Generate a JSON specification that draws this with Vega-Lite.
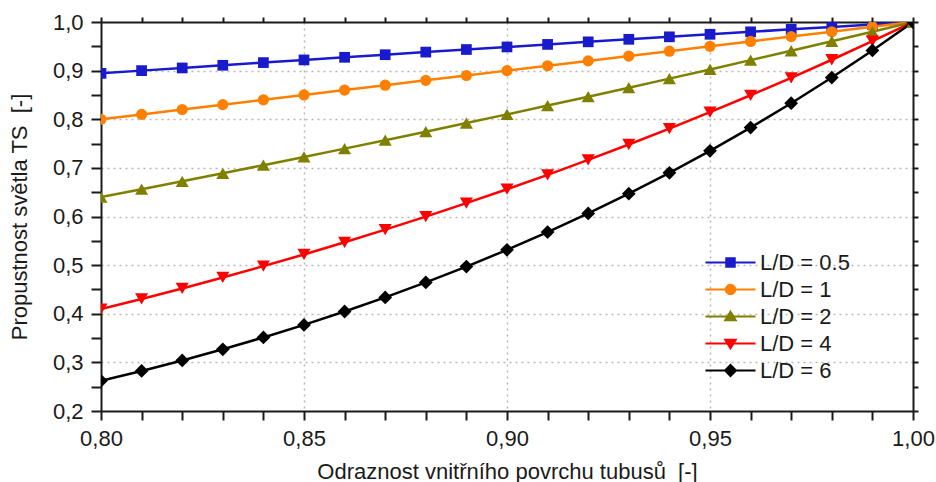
{
  "$schema": "https://vega.github.io/schema/vega-lite/v6.json",
  "width": 812,
  "height": 389,
  "autosize": {"type": "none"},
  "padding": {"left": 101, "top": 22, "right": 23, "bottom": 71},
  "background": "white",
  "config": {
    "view": {"stroke": null},
    "font": "Liberation Sans",
    "axis": {"labelFont": "Liberation Sans", "titleFont": "Liberation Sans", "labelColor": "#1a1a1a", "titleColor": "#1a1a1a", "titleFontWeight": "normal", "domainColor": "#1a1a1a", "domainWidth": 2, "tickColor": "#1a1a1a", "tickWidth": 2, "labelFontSize": 22, "titleFontSize": 22},
    "legend": {"labelFont": "Liberation Sans", "labelFontSize": 22, "labelColor": "#1a1a1a"},
    "point": {"filled": true, "opacity": 1}
  },
  "data": {"values": [
    {"x": 0.80, "s": "L/D = 0.5", "ts": 0.8944}, {"x": 0.81, "s": "L/D = 0.5", "ts": 0.9000}, {"x": 0.82, "s": "L/D = 0.5", "ts": 0.9055}, {"x": 0.83, "s": "L/D = 0.5", "ts": 0.9110}, {"x": 0.84, "s": "L/D = 0.5", "ts": 0.9165}, {"x": 0.85, "s": "L/D = 0.5", "ts": 0.9220}, {"x": 0.86, "s": "L/D = 0.5", "ts": 0.9274}, {"x": 0.87, "s": "L/D = 0.5", "ts": 0.9327}, {"x": 0.88, "s": "L/D = 0.5", "ts": 0.9381}, {"x": 0.89, "s": "L/D = 0.5", "ts": 0.9434}, {"x": 0.90, "s": "L/D = 0.5", "ts": 0.9487}, {"x": 0.91, "s": "L/D = 0.5", "ts": 0.9539}, {"x": 0.92, "s": "L/D = 0.5", "ts": 0.9592}, {"x": 0.93, "s": "L/D = 0.5", "ts": 0.9644}, {"x": 0.94, "s": "L/D = 0.5", "ts": 0.9695}, {"x": 0.95, "s": "L/D = 0.5", "ts": 0.9747}, {"x": 0.96, "s": "L/D = 0.5", "ts": 0.9798}, {"x": 0.97, "s": "L/D = 0.5", "ts": 0.9849}, {"x": 0.98, "s": "L/D = 0.5", "ts": 0.9899}, {"x": 0.99, "s": "L/D = 0.5", "ts": 0.9950}, {"x": 1.00, "s": "L/D = 0.5", "ts": 1.0},
    {"x": 0.80, "s": "L/D = 1", "ts": 0.80}, {"x": 0.81, "s": "L/D = 1", "ts": 0.81}, {"x": 0.82, "s": "L/D = 1", "ts": 0.82}, {"x": 0.83, "s": "L/D = 1", "ts": 0.83}, {"x": 0.84, "s": "L/D = 1", "ts": 0.84}, {"x": 0.85, "s": "L/D = 1", "ts": 0.85}, {"x": 0.86, "s": "L/D = 1", "ts": 0.86}, {"x": 0.87, "s": "L/D = 1", "ts": 0.87}, {"x": 0.88, "s": "L/D = 1", "ts": 0.88}, {"x": 0.89, "s": "L/D = 1", "ts": 0.89}, {"x": 0.90, "s": "L/D = 1", "ts": 0.90}, {"x": 0.91, "s": "L/D = 1", "ts": 0.91}, {"x": 0.92, "s": "L/D = 1", "ts": 0.92}, {"x": 0.93, "s": "L/D = 1", "ts": 0.93}, {"x": 0.94, "s": "L/D = 1", "ts": 0.94}, {"x": 0.95, "s": "L/D = 1", "ts": 0.95}, {"x": 0.96, "s": "L/D = 1", "ts": 0.96}, {"x": 0.97, "s": "L/D = 1", "ts": 0.97}, {"x": 0.98, "s": "L/D = 1", "ts": 0.98}, {"x": 0.99, "s": "L/D = 1", "ts": 0.99}, {"x": 1.00, "s": "L/D = 1", "ts": 1.0},
    {"x": 0.80, "s": "L/D = 2", "ts": 0.6400}, {"x": 0.81, "s": "L/D = 2", "ts": 0.6561}, {"x": 0.82, "s": "L/D = 2", "ts": 0.6724}, {"x": 0.83, "s": "L/D = 2", "ts": 0.6889}, {"x": 0.84, "s": "L/D = 2", "ts": 0.7056}, {"x": 0.85, "s": "L/D = 2", "ts": 0.7225}, {"x": 0.86, "s": "L/D = 2", "ts": 0.7396}, {"x": 0.87, "s": "L/D = 2", "ts": 0.7569}, {"x": 0.88, "s": "L/D = 2", "ts": 0.7744}, {"x": 0.89, "s": "L/D = 2", "ts": 0.7921}, {"x": 0.90, "s": "L/D = 2", "ts": 0.8100}, {"x": 0.91, "s": "L/D = 2", "ts": 0.8281}, {"x": 0.92, "s": "L/D = 2", "ts": 0.8464}, {"x": 0.93, "s": "L/D = 2", "ts": 0.8649}, {"x": 0.94, "s": "L/D = 2", "ts": 0.8836}, {"x": 0.95, "s": "L/D = 2", "ts": 0.9025}, {"x": 0.96, "s": "L/D = 2", "ts": 0.9216}, {"x": 0.97, "s": "L/D = 2", "ts": 0.9409}, {"x": 0.98, "s": "L/D = 2", "ts": 0.9604}, {"x": 0.99, "s": "L/D = 2", "ts": 0.9801}, {"x": 1.00, "s": "L/D = 2", "ts": 1.0},
    {"x": 0.80, "s": "L/D = 4", "ts": 0.4096}, {"x": 0.81, "s": "L/D = 4", "ts": 0.4305}, {"x": 0.82, "s": "L/D = 4", "ts": 0.4521}, {"x": 0.83, "s": "L/D = 4", "ts": 0.4746}, {"x": 0.84, "s": "L/D = 4", "ts": 0.4979}, {"x": 0.85, "s": "L/D = 4", "ts": 0.5220}, {"x": 0.86, "s": "L/D = 4", "ts": 0.5470}, {"x": 0.87, "s": "L/D = 4", "ts": 0.5729}, {"x": 0.88, "s": "L/D = 4", "ts": 0.5997}, {"x": 0.89, "s": "L/D = 4", "ts": 0.6274}, {"x": 0.90, "s": "L/D = 4", "ts": 0.6561}, {"x": 0.91, "s": "L/D = 4", "ts": 0.6857}, {"x": 0.92, "s": "L/D = 4", "ts": 0.7164}, {"x": 0.93, "s": "L/D = 4", "ts": 0.7481}, {"x": 0.94, "s": "L/D = 4", "ts": 0.7807}, {"x": 0.95, "s": "L/D = 4", "ts": 0.8145}, {"x": 0.96, "s": "L/D = 4", "ts": 0.8493}, {"x": 0.97, "s": "L/D = 4", "ts": 0.8853}, {"x": 0.98, "s": "L/D = 4", "ts": 0.9224}, {"x": 0.99, "s": "L/D = 4", "ts": 0.9606}, {"x": 1.00, "s": "L/D = 4", "ts": 1.0},
    {"x": 0.80, "s": "L/D = 6", "ts": 0.2621}, {"x": 0.81, "s": "L/D = 6", "ts": 0.2824}, {"x": 0.82, "s": "L/D = 6", "ts": 0.3040}, {"x": 0.83, "s": "L/D = 6", "ts": 0.3269}, {"x": 0.84, "s": "L/D = 6", "ts": 0.3513}, {"x": 0.85, "s": "L/D = 6", "ts": 0.3771}, {"x": 0.86, "s": "L/D = 6", "ts": 0.4046}, {"x": 0.87, "s": "L/D = 6", "ts": 0.4336}, {"x": 0.88, "s": "L/D = 6", "ts": 0.4644}, {"x": 0.89, "s": "L/D = 6", "ts": 0.4970}, {"x": 0.90, "s": "L/D = 6", "ts": 0.5314}, {"x": 0.91, "s": "L/D = 6", "ts": 0.5679}, {"x": 0.92, "s": "L/D = 6", "ts": 0.6064}, {"x": 0.93, "s": "L/D = 6", "ts": 0.6470}, {"x": 0.94, "s": "L/D = 6", "ts": 0.6899}, {"x": 0.95, "s": "L/D = 6", "ts": 0.7351}, {"x": 0.96, "s": "L/D = 6", "ts": 0.7828}, {"x": 0.97, "s": "L/D = 6", "ts": 0.8330}, {"x": 0.98, "s": "L/D = 6", "ts": 0.8858}, {"x": 0.99, "s": "L/D = 6", "ts": 0.9415}, {"x": 1.00, "s": "L/D = 6", "ts": 1.0}
  ]},
  "resolve": {"axis": {"x": "independent", "y": "independent"}},
  "layer": [
    {
      "transform": [{"filter": "datum.s === 'L/D = 1'"}],
      "mark": {"type": "point", "shape": "circle", "size": 125, "opacity": 0},
      "encoding": {
        "x": {"field": "x", "type": "quantitative", "scale": {"domain": [0.8, 1.0], "nice": false, "zero": false},
          "axis": {"orient": "bottom", "values": [0.85, 0.9, 0.95], "grid": true, "domain": false, "ticks": false, "labels": false, "title": null,
            "gridColor": "#b8b8b8", "gridDash": [2, 4], "gridWidth": 1.5, "gridOpacity": 1}},
        "y": {"field": "ts", "type": "quantitative", "scale": {"domain": [0.2, 1.0], "nice": false, "zero": false},
          "axis": {"orient": "left", "values": [0.3, 0.4, 0.5, 0.6, 0.7, 0.8, 0.9], "grid": true, "domain": false, "ticks": false, "labels": false, "title": null,
            "gridColor": "#b8b8b8", "gridDash": [2, 4], "gridWidth": 1.5, "gridOpacity": 1}}
      }
    },
    {
      "mark": {"type": "line", "strokeWidth": 2.5, "clip": true},
      "encoding": {
        "x": {"field": "x", "type": "quantitative",
          "axis": {"orient": "bottom", "title": "Odraznost vnitřního povrchu tubusů \u00a0[-]",
            "values": [0.80, 0.81, 0.82, 0.83, 0.84, 0.85, 0.86, 0.87, 0.88, 0.89, 0.90, 0.91, 0.92, 0.93, 0.94, 0.95, 0.96, 0.97, 0.98, 0.99, 1.00],
            "labelExpr": "round(datum.value*100) % 5 === 0 ? replace(format(datum.value, '.2f'), '.', ',') : ''",
            "tickSize": 9, "labelPadding": 8, "titlePadding": 12, "labelFlush": false, "labelOverlap": false, "grid": false,
            "encode": {
              "ticks": {"y2": {"value": {"expr": "round(datum.value*100) % 5 === 0 ? 9 : 5"}}}
            }}},
        "y": {"field": "ts", "type": "quantitative",
          "axis": {"orient": "left", "title": "Propustnost světla TS \u00a0[-]",
            "values": [0.2, 0.25, 0.3, 0.35, 0.4, 0.45, 0.5, 0.55, 0.6, 0.65, 0.7, 0.75, 0.8, 0.85, 0.9, 0.95, 1.0],
            "labelExpr": "round(datum.value*100) % 10 === 0 ? replace(format(datum.value, '.1f'), '.', ',') : ''",
            "tickSize": 10, "labelPadding": 8, "titlePadding": 21, "labelFlush": false, "labelOverlap": false, "grid": false,
            "encode": {
              "ticks": {"x2": {"value": {"expr": "round(datum.value*100) % 10 === 0 ? -10 : -5"}}}
            }}},
        "color": {"field": "s", "type": "nominal",
          "scale": {"domain": ["L/D = 0.5", "L/D = 1", "L/D = 2", "L/D = 4", "L/D = 6"], "range": ["#1a1acd", "#ff8000", "#808000", "#ff0000", "#000000"]},
          "legend": {"title": null, "orient": "none", "legendX": 616, "legendY": 227, "padding": 0, "rowPadding": 2,
            "symbolSize": 625, "symbolStrokeWidth": 2, "labelOffset": 16,
            "encode": {"symbols": {"update": {
              "shape": {"signal": "datum.value === 'L/D = 0.5' ? 'M-2,0H2M-0.34,-0.34H0.34V0.34H-0.34Z' : datum.value === 'L/D = 1' ? 'M-2,0H2M0.38,0A0.38,0.38,0,1,1,-0.38,0A0.38,0.38,0,1,1,0.38,0Z' : datum.value === 'L/D = 2' ? 'M-2,0H2M0,-0.38L0.42,0.3L-0.42,0.3Z' : datum.value === 'L/D = 4' ? 'M-2,0H2M0,0.38L0.42,-0.3L-0.42,-0.3Z' : 'M-2,0H2M0,-0.44L0.44,0L0,0.44L-0.44,0Z'"},
              "fill": {"scale": "color", "field": "value"},
              "stroke": {"scale": "color", "field": "value"},
              "strokeWidth": {"value": 2},
              "opacity": {"value": 1}
            }}}}
        }
      }
    },
    {
      "transform": [{"filter": "datum.s === 'L/D = 0.5'"}],
      "mark": {"type": "point", "shape": "square", "size": 115, "clip": true},
      "encoding": {
        "x": {"field": "x", "type": "quantitative",
          "axis": {"orient": "top", "title": null, "labels": false, "grid": false,
            "values": [0.80, 0.81, 0.82, 0.83, 0.84, 0.85, 0.86, 0.87, 0.88, 0.89, 0.90, 0.91, 0.92, 0.93, 0.94, 0.95, 0.96, 0.97, 0.98, 0.99, 1.00],
            "tickSize": 5,
            "encode": {"ticks": {"y2": {"value": {"expr": "round(datum.value*100) % 5 === 0 ? 8 : 5"}}}}}},
        "y": {"field": "ts", "type": "quantitative",
          "axis": {"orient": "right", "title": null, "labels": false, "grid": false,
            "values": [0.2, 0.25, 0.3, 0.35, 0.4, 0.45, 0.5, 0.55, 0.6, 0.65, 0.7, 0.75, 0.8, 0.85, 0.9, 0.95, 1.0],
            "tickSize": 5,
            "encode": {"ticks": {"x2": {"value": {"expr": "round(datum.value*100) % 10 === 0 ? -8 : -5"}}}}}},
        "color": {"field": "s", "type": "nominal", "legend": null}
      }
    },
    {
      "transform": [{"filter": "datum.s === 'L/D = 1'"}],
      "mark": {"type": "point", "shape": "circle", "size": 125, "clip": true},
      "encoding": {
        "x": {"field": "x", "type": "quantitative", "axis": null},
        "y": {"field": "ts", "type": "quantitative", "axis": null},
        "color": {"field": "s", "type": "nominal", "legend": null}
      }
    },
    {
      "transform": [{"filter": "datum.s === 'L/D = 2'"}],
      "mark": {"type": "point", "shape": "triangle-up", "size": 170, "clip": true},
      "encoding": {
        "x": {"field": "x", "type": "quantitative", "axis": null},
        "y": {"field": "ts", "type": "quantitative", "axis": null},
        "color": {"field": "s", "type": "nominal", "legend": null}
      }
    },
    {
      "transform": [{"filter": "datum.s === 'L/D = 4'"}],
      "mark": {"type": "point", "shape": "triangle-down", "size": 170, "clip": true},
      "encoding": {
        "x": {"field": "x", "type": "quantitative", "axis": null},
        "y": {"field": "ts", "type": "quantitative", "axis": null},
        "color": {"field": "s", "type": "nominal", "legend": null}
      }
    },
    {
      "transform": [{"filter": "datum.s === 'L/D = 6'"}],
      "mark": {"type": "point", "shape": "diamond", "size": 190, "clip": true},
      "encoding": {
        "x": {"field": "x", "type": "quantitative", "axis": null},
        "y": {"field": "ts", "type": "quantitative", "axis": null},
        "color": {"field": "s", "type": "nominal", "legend": null}
      }
    }
  ]
}
